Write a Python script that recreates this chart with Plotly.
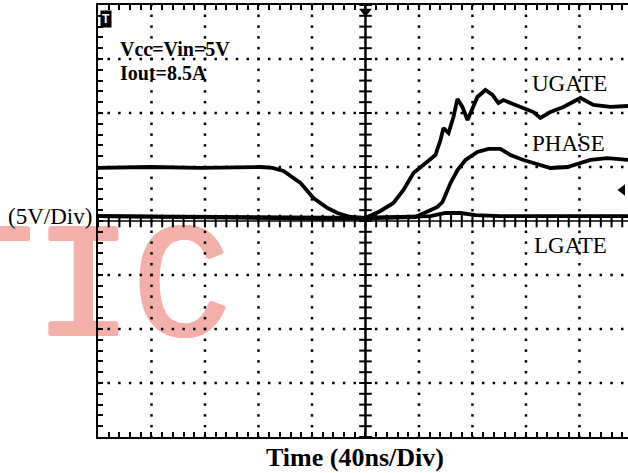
import plotly.graph_objects as go
import numpy as np

# ---- data (time in ns, 40 ns/div; voltage in V, 5 V/div) ----
lgate_t = [-200, -160.8, -123.4, -78.5, -69.5, -61.3, -48.6, -38.9, -28.4, -20.9, -11.2, 0, 26.2, 48.6, 59.8, 71.0, 82.2, 100.9, 196.6]
lgate_v = [4.91, 5.0, 4.91, 5.0, 4.91, 4.63, 3.52, 2.13, 1.20, 0.74, 0.37, 0.28, 0.37, 0.46, 0.74, 0.74, 0.55, 0.46, 0.46]

ugate_t = [-200, -18.7, 0, 11.2, 20.9, 28.4, 35.9, 41.1, 46.4, 52.3, 56.1, 58.3, 62.1, 65.8, 68.8, 72.5, 76.3, 80.0, 83.7,
           89.7, 95.0, 99.4, 103.2, 108.4, 118.1, 125.6, 130.8, 138.3, 148.0, 160.8, 170.5, 183.2, 196.6]
ugate_v = [0.46, 0.19, 0.28, 0.93, 1.67, 2.87, 4.44, 5.0, 5.46, 6.11, 7.5, 8.61, 8.15, 9.63, 11.3, 10.56, 9.35, 10.46, 11.48,
           12.13, 11.67, 10.93, 11.2, 10.93, 10.46, 10.09, 9.54, 10.09, 10.56, 11.39, 10.74, 10.56, 10.65]

phase_t = [-200, -48.6, 0, 37.4, 53.8, 57.6, 63.6, 68.8, 74.8, 83.7, 92.0, 100.9, 108.4, 118.1, 138.3, 151.0, 168.2, 180.9, 196.6]
phase_v = [0.46, 0.37, 0.28, 0.37, 1.30, 1.76, 3.52, 4.72, 5.65, 6.39, 6.67, 6.67, 6.11, 5.65, 4.91, 5.0, 5.65, 5.83, 5.65]

X_RANGE = [-200, 196.3]
Y_RANGE = [-20, 20]

def px_x(px):
    return (px - 98) / 530.0

def px_y(py):
    return (437 - py) / 432.0

def px_t(px):
    return X_RANGE[0] + px_x(px) * (X_RANGE[1] - X_RANGE[0])

def px_v(py):
    return Y_RANGE[0] + px_y(py) * (Y_RANGE[1] - Y_RANGE[0])

fig = go.Figure()

# watermark (drawn first, beneath everything); anchored at its right end
pink = "#F3B0A8"
sh = ", ".join(f"{dx}px {dy}px 0 {pink}" for dx, dy in
               [(2, 0), (-2, 0), (0, 1), (0, -1), (1, 1), (-1, -1), (1, -1), (-1, 1)])
fig.add_trace(go.Scatter(x=[px_t(231)], y=[px_v(294)], mode="text", text=["TIC"],
                         textposition="middle left", cliponaxis=False, hoverinfo="skip",
                         textfont=dict(family="Liberation Mono", size=164, color=pink, shadow=sh),
                         showlegend=False))

# dotted graticule (dots every 0.2 div)
xs_minor = np.arange(-200, 197, 8)
ys_minor = np.arange(-20, 20.01, 1)
gx, gy = [], []
for xv in [-160, -120, -80, -40, 40, 80, 120, 160]:
    gx += [xv] * len(ys_minor)
    gy += list(ys_minor)
for yv in [-15, -10, -5, 5, 10, 15]:
    gx += list(xs_minor)
    gy += [yv] * len(xs_minor)
fig.add_trace(go.Scatter(x=gx, y=gy, mode="markers", hoverinfo="skip",
                         marker=dict(symbol="square", size=2.5, color="black", line=dict(width=0)),
                         showlegend=False))

# center cross ticks
fig.add_trace(go.Scatter(x=[0] * len(ys_minor), y=ys_minor, mode="markers", hoverinfo="skip",
                         marker=dict(symbol="line-ew", size=9, line=dict(width=2, color="black")),
                         showlegend=False))
fig.add_trace(go.Scatter(x=xs_minor, y=[0] * len(xs_minor), mode="markers", hoverinfo="skip",
                         marker=dict(symbol="line-ns", size=9, line=dict(width=2, color="black")),
                         showlegend=False))

for t, v in [(lgate_t, lgate_v), (ugate_t, ugate_v), (phase_t, phase_v)]:
    fig.add_trace(go.Scatter(x=t, y=v, mode="lines", line=dict(color="black", width=3.8),
                             showlegend=False, hoverinfo="skip"))

# trigger markers
fig.add_trace(go.Scatter(x=[0], y=[19.4], mode="markers", cliponaxis=False, hoverinfo="skip",
                         marker=dict(symbol="triangle-down", size=11, color="black"), showlegend=False))
fig.add_trace(go.Scatter(x=[192.2], y=[2.87], mode="markers", cliponaxis=False, hoverinfo="skip",
                         marker=dict(symbol="triangle-left", size=10, color="black"), showlegend=False))

# center cross lines
fig.add_shape(type="line", x0=0, x1=0, y0=-20, y1=20, xref="x", yref="y", line=dict(color="black", width=2.5))
fig.add_shape(type="line", x0=-200, x1=196.3, y0=0, y1=0, xref="x", yref="y", line=dict(color="black", width=1.5))

serif = "Liberation Serif"

ann = [
    dict(text="<b>Vcc=Vin=5V</b>", x=px_x(118), y=px_y(49), xanchor="left", size=20),
    dict(text="<b>Iout=8.5A</b>", x=px_x(118), y=px_y(73), xanchor="left", size=20),
    dict(text="UGATE", x=px_x(530), y=px_y(83), xanchor="left", size=23),
    dict(text="PHASE", x=px_x(530), y=px_y(143), xanchor="left", size=23),
    dict(text="LGATE", x=px_x(532), y=px_y(245), xanchor="left", size=23),
    dict(text="(5V/Div)", x=px_x(94), y=px_y(216), xanchor="right", size=23),
    dict(text="<b>Time (40ns/Div)</b>", x=px_x(355), y=px_y(457), xanchor="center", size=26),
]
for a in ann:
    fig.add_annotation(text=a["text"], x=a["x"], y=a["y"], xref="paper", yref="paper",
                       xanchor=a["xanchor"], yanchor="middle", showarrow=False,
                       font=dict(family=serif, size=a["size"], color="black"))

# trigger "T" flag
fig.add_annotation(text="<b>T</b>", x=px_x(106), y=px_y(19), xref="paper", yref="paper",
                   xanchor="center", yanchor="middle",
                   showarrow=False, bgcolor="black", borderpad=1,
                   font=dict(family="Liberation Sans", size=12, color="white"))

fig.update_xaxes(range=X_RANGE, showgrid=False, zeroline=False, showticklabels=False,
                 showline=True, linecolor="black", linewidth=2, mirror="ticks",
                 ticks="inside", tick0=0, dtick=8, ticklen=5, tickwidth=1.5, tickcolor="black")
fig.update_yaxes(range=Y_RANGE, showgrid=False, zeroline=False, showticklabels=False,
                 showline=True, linecolor="black", linewidth=2, mirror=False,
                 ticks="inside", tick0=0, dtick=1, ticklen=5, tickwidth=1.5, tickcolor="black")

fig.update_layout(width=628, height=473, autosize=False,
                  margin=dict(l=98, r=0, t=5, b=36),
                  paper_bgcolor="white", plot_bgcolor="white")

fig.write_html("out.html")
